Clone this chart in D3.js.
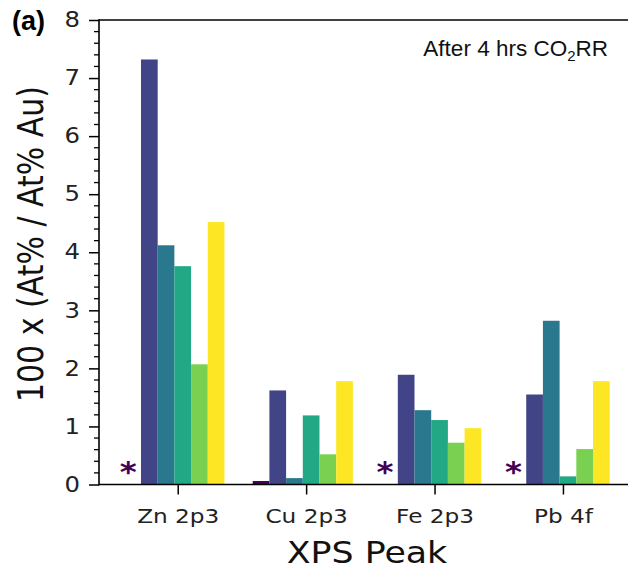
<!DOCTYPE html>
<html>
<head>
<meta charset="utf-8">
<script src="https://cdn.jsdelivr.net/npm/d3@7"></script>
<style>
  body { margin: 0; background: #fff; }
  svg { display: block; }
</style>
</head>
<body>
<div id="chart"></div>
<script>
// XPS peak ratios after 4 hrs CO2RR, 6 samples per peak
const peaks = ['Zn 2p3', 'Cu 2p3', 'Fe 2p3', 'Pb 4f']
const sample1 = [0, 0.06, 0, 0]
const sample2 = [7.32, 1.62, 1.89, 1.55]
const sample3 = [4.12, 0.11, 1.28, 2.82]
const sample4 = [3.76, 1.19, 1.11, 0.14]
const sample5 = [2.07, 0.52, 0.72, 0.61]
const sample6 = [4.52, 1.78, 0.97, 1.78]
const belowDetection = [true, false, true, true]   // marked with *
const yTicks = [0, 1, 2, 3, 4, 5, 6, 7, 8]

const series = [sample1, sample2, sample3, sample4, sample5, sample6]
const colors = ['#440154', '#414487', '#2a788e', '#22a884', '#7ad151', '#fde725']

const W = 628, H = 570
const plotL = 99, plotT = 20, plotB = 484.5, plotR = 640
const sx = 1.16   // glyphs in the source are a bit wide
const font = "'DejaVu Sans', sans-serif"

const svg = d3.select('#chart').append('svg').attr('width', W).attr('height', H)

const x = d3.scaleLinear().domain([-0.613, 3.6]).range([plotL, plotR])
const y = d3.scaleLinear().domain([0, 8]).range([plotB, plotT])
const barW = 0.13

// bars
series.forEach((vals, j) => {
    svg.append('g').selectAll('rect')
        .data(vals).enter()
        .append('rect')
        .attr('x', (d, i) => x(i + (j - 3.2) * barW))
        .attr('y', d => y(d))
        .attr('width', x(barW) - x(0))
        .attr('height', d => y(0) - y(d))
        .attr('fill', colors[j])
})

// asterisks where the first sample had no signal
svg.append('g').selectAll('text')
    .data(peaks.map((p, i) => i).filter(i => belowDetection[i])).enter()
    .append('text')
    .attr('transform', i => `translate(${x(i - 2.7 * barW - 0.035)},${plotB - 2.5}) scale(${sx},1)`)
    .attr('text-anchor', 'middle')
    .attr('font-family', font)
    .attr('font-weight', 'bold')
    .attr('font-size', '28px')
    .attr('fill', colors[0])
    .text('*')

// y axis with minor ticks
const yAxis = d3.axisLeft(y).tickValues(yTicks).tickSize(10).tickPadding(8).tickFormat(d3.format('d'))
const gy = svg.append('g').attr('transform', `translate(${plotL},0)`).call(yAxis)
gy.select('.domain').remove()
gy.selectAll('line').attr('stroke', '#000').attr('stroke-width', 1.5)
gy.selectAll('text')
    .attr('x', 0)
    .attr('transform', `translate(-19,0) scale(${sx},1)`)
    .attr('font-family', font).attr('font-size', '21px').attr('fill', '#222')

const minor = d3.range(0, 8.001, 0.2).filter(v => Math.abs(v - Math.round(v)) > 0.01)
svg.append('g').selectAll('line')
    .data(minor).enter()
    .append('line')
    .attr('x1', plotL - 5).attr('x2', plotL)
    .attr('y1', d => y(d)).attr('y2', d => y(d))
    .attr('stroke', '#000').attr('stroke-width', 1.3)

// x axis
const xAxis = d3.axisBottom(x).tickValues(d3.range(peaks.length)).tickSize(10).tickPadding(6)
    .tickFormat(i => peaks[i])
const gx = svg.append('g').attr('transform', `translate(0,${plotB})`).call(xAxis)
gx.select('.domain').remove()
gx.selectAll('line').attr('stroke', '#000').attr('stroke-width', 1.5)
gx.selectAll('text')
    .attr('font-family', font).attr('font-size', '20px').attr('fill', '#222')
    .attr('dy', null).attr('y', null)
    .attr('transform', `translate(0,38.5) scale(${sx},1)`)

// frame
svg.append('line').attr('x1', plotL).attr('x2', plotR).attr('y1', plotT).attr('y2', plotT)
    .attr('stroke', '#000').attr('stroke-width', 1.6)
svg.append('line').attr('x1', plotL).attr('x2', plotR).attr('y1', plotB).attr('y2', plotB)
    .attr('stroke', '#000').attr('stroke-width', 1.6)
svg.append('line').attr('x1', plotL).attr('x2', plotL).attr('y1', plotT - 0.8).attr('y2', plotB + 0.8)
    .attr('stroke', '#000').attr('stroke-width', 1.6)

// axis titles
svg.append('text')
    .attr('transform', `translate(367,563) scale(${sx},1)`)
    .attr('text-anchor', 'middle')
    .attr('font-family', font).attr('font-size', '30px').attr('fill', '#111')
    .text('XPS Peak')

svg.append('text')
    .attr('transform', `translate(43,244) scale(${sx},1) rotate(-90)`)
    .attr('text-anchor', 'middle')
    .attr('font-family', font).attr('font-size', '30px').attr('fill', '#111')
    .text('100 x (At% / At% Au)')

// panel label and annotation
svg.append('text')
    .attr('x', 12).attr('y', 30)
    .attr('font-family', "'Liberation Sans', Arial, sans-serif")
    .attr('font-weight', 'bold').attr('font-size', '27px')
    .text('(a)')

const note = svg.append('text')
    .attr('x', 608).attr('y', 56)
    .attr('text-anchor', 'end')
    .attr('font-family', "'Liberation Sans', Arial, sans-serif")
    .attr('font-size', '22.5px').attr('fill', '#111')
note.append('tspan').text('After 4 hrs CO')
note.append('tspan').attr('dy', 5).attr('font-size', '15px').text('2')
note.append('tspan').attr('dy', -5).text('RR')
</script>
</body>
</html>
